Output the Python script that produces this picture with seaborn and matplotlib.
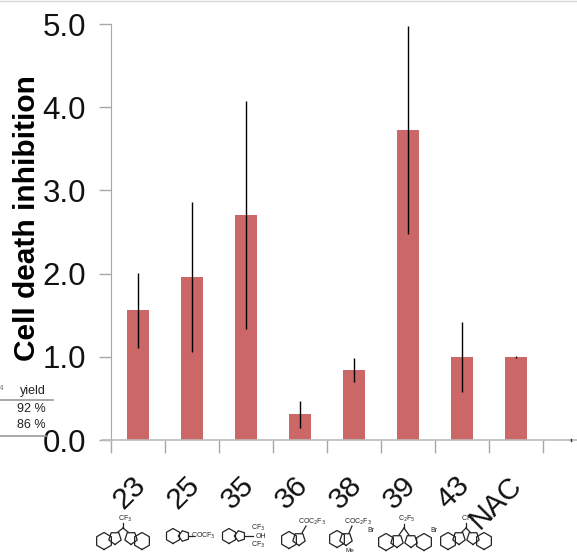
import numpy as np
import pandas as pd
import seaborn as sns
from matplotlib import pyplot as plt

compounds = ["23", "25", "35", "36", "38", "39", "43", "NAC", ""]
inhibition = [1.56, 1.96, 2.70, 0.31, 0.84, 3.72, 1.00, 1.00, np.nan]
errors = [0.45, 0.90, 1.37, 0.16, 0.14, 1.25, 0.42, 0.01, np.nan]
y_ticks = [0, 1, 2, 3, 4, 5]
y_tick_labels = ["0.0", "1.0", "2.0", "3.0", "4.0", "5.0"]

BAR_COLOR = "#CB6767"
AXIS_COLOR = "#A8A8A8"


def ring(ov, x, y, r, n, start=90):
	a = np.radians(start + np.arange(n + 1) * 360 / n)
	ov.plot(x + r * np.cos(a), y + r * np.sin(a), color="#222222", lw=0.9)


def indole(ov, bx, by, px, py):
	ring(ov, bx, by, 8.5, 6)
	ring(ov, px, py, 6.5, 5)


def label(ov, x, y, s, size=5):
	ov.text(x, y, s, fontsize=size, ha="center", va="center", color="#222222")


def bond(ov, x0, y0, x1, y1):
	ov.plot([x0, x1], [y0, y1], color="#222222", lw=0.9)


def bisindole(ov, x1, x2, px1, px2, cx, top):
	indole(ov, x1, 541, px1, 538)
	indole(ov, x2, 541, px2, 538)
	bond(ov, px1 + 3, 532, cx, 528)
	bond(ov, px2 - 3, 532, cx, 528)
	bond(ov, cx, 528, cx, 523)
	label(ov, cx + 2, 519, top)


def structures(ov):
	bisindole(ov, 104, 142, 115, 131, 123, "CF$_3$")

	ring(ov, 173, 536, 7.5, 6)
	ring(ov, 184, 536, 5.5, 5, start=180)
	bond(ov, 189, 536, 194, 536)
	label(ov, 203, 536, "COCF$_3$")

	ring(ov, 229, 536, 7.5, 6)
	ring(ov, 240, 536, 5.5, 5, start=180)
	bond(ov, 245, 536, 253, 536)
	label(ov, 258, 528, "CF$_3$")
	label(ov, 261, 536, "OH")
	label(ov, 258, 545, "CF$_3$")

	indole(ov, 289, 540, 299, 539)
	bond(ov, 302, 533, 306, 526)
	label(ov, 312, 522, "COC$_2$F$_3$")

	indole(ov, 337, 539, 346, 539)
	bond(ov, 349, 533, 352, 526)
	label(ov, 358, 522, "COC$_2$F$_3$")
	label(ov, 350, 551, "Me", 4.5)

	indole(ov, 386, 542, 397, 541)
	indole(ov, 424, 542, 411, 541)
	bond(ov, 399, 535, 404, 528)
	bond(ov, 409, 535, 404, 528)
	bond(ov, 404, 528, 404, 524)
	label(ov, 407, 519, "C$_2$F$_5$")
	label(ov, 371, 531, "Br")
	label(ov, 434, 531, "Br")

	bisindole(ov, 448, 484, 459, 473, 466, "CF$_3$")


def yield_table(ov):
	ov.text(33, 391, "yield", fontsize=9, ha="center", va="center", color="#222222")
	ov.text(31, 409, "92 %", fontsize=9, ha="center", va="center", color="#222222")
	ov.text(31, 425, "86 %", fontsize=9, ha="center", va="center", color="#222222")
	ov.text(1, 389, "4", fontsize=6, ha="center", va="center", color="#777777")
	ov.plot([0, 53], [400, 400], color="#999999", lw=1.2)
	ov.plot([0, 46], [436, 436], color="#999999", lw=1.2)
	ov.plot([0, 577], [0.5, 0.5], color="#DDD8D8", lw=1)


def main():
	plt.rcParams['font.family'] = ['Liberation Sans', 'DejaVu Sans']
	fig = plt.figure(figsize=(5.77, 5.52), dpi=100)
	ax = fig.add_axes([111 / 577, 112 / 552, 459 / 577, 416 / 552])

	df = pd.DataFrame({"compound": compounds, "inhibition": inhibition})
	sns.barplot(data=df, x="compound", y="inhibition", color=BAR_COLOR, saturation=1,
				width=0.4, errorbar=None, ax=ax)
	ax.errorbar(range(len(compounds)), inhibition, yerr=errors, fmt="none", ecolor="black",
				elinewidth=1.0, capsize=0)

	ax.set_xlim(-0.5, 8 - 0.5 + 27 / 54)
	ax.set_ylim(0, 5)
	ax.set_xticks(np.arange(-0.5, 8, 1))
	ax.set_xticklabels([])
	ax.set_xlabel("")
	ax.set_yticks(y_ticks)
	ax.set_yticklabels(y_tick_labels, fontsize=22.5, color="#111111")
	ax.set_ylabel("Cell death inhibition", fontsize=21.5, fontweight="bold", labelpad=0)
	ax.yaxis.set_label_coords(-70 / 459, 222 / 416)
	ax.tick_params(axis="y", length=9, color=AXIS_COLOR, width=1, pad=9)
	ax.tick_params(axis="x", length=9, color=AXIS_COLOR, width=1)
	sns.despine(ax=ax)
	ax.spines["left"].set_color(AXIS_COLOR)
	ax.spines["bottom"].set_color("#BBBBBB")
	ax.spines["bottom"].set_linewidth(1.2)

	# names sit under the bars, rotated
	for i, name in enumerate(compounds):
		x = 129.5 + 54 * i
		y = 493
		size = 21.5
		if name == "NAC":
			x, y, size = 496, 503, 21
		fig.text(x / 577, 1 - y / 552, name, fontsize=size, rotation=45,
				 ha="center", va="center", color="#111111", zorder=5)

	# overlay in pixel coordinates for the pasted-in bits
	ov = fig.add_axes([0, 0, 1, 1], facecolor="none")
	ov.set_xlim(0, 577)
	ov.set_ylim(552, 0)
	ov.axis("off")
	ov.plot([102, 111], [440, 440], color="#BBBBBB", lw=1.2)
	ov.plot([570, 577], [440, 440], color="#BBBBBB", lw=1.2)
	ov.plot([570.5, 570.5], [439, 441], color="#333333", lw=1)
	yield_table(ov)
	structures(ov)

	fig.savefig("out.png", dpi=100)


if __name__ == '__main__':
	main()
